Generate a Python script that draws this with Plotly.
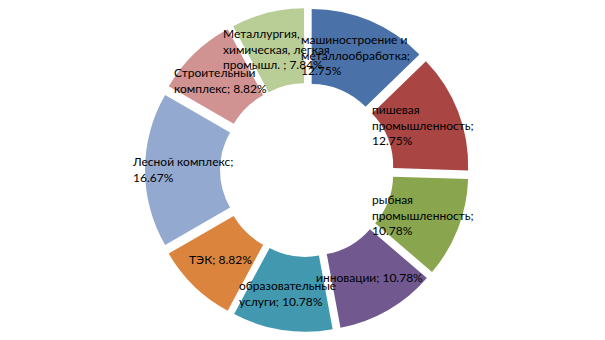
import math
import plotly.graph_objects as go

# Sector shares, clockwise from 12 o'clock
categories = [
    "машиностроение и металлообработка",
    "пишевая промышленность",
    "рыбная промышленность",
    "инновации",
    "образовательные услуги",
    "ТЭК",
    "Лесной комплекс",
    "Строительный комплекс",
    "Металлургия, химическая, легкая промышл. ",
]
shares = [12.75, 12.75, 10.78, 10.78, 10.78, 8.82, 16.67, 8.82, 7.84]

# How each category name wraps inside its slice
wrapped_names = [
    "машиностроение и<br>металлообработка",
    "пишевая<br>промышленность",
    "рыбная<br>промышленность",
    "инновации",
    "образовательные<br>услуги",
    "ТЭК",
    "Лесной комплекс",
    "Строительный<br>комплекс",
    "Металлургия,<br>химическая, легкая<br>промышл. ",
]
# Whether the percentage goes on its own line
value_on_new_line = [True, True, True, False, False, False, True, False, False]

colors = ["#4A72A8", "#A94643", "#89A54E", "#71588F", "#4198AF",
          "#DB843D", "#93A9CF", "#D09391", "#B9CD96"]

W, H = 605, 340
ML, MR, MT, MB = 9, 0, 8, 8
HOLE = 0.5
PULL = 0.08

fig = go.Figure(go.Pie(
    labels=categories,
    values=shares,
    sort=False,
    direction="clockwise",
    rotation=0,
    hole=HOLE,
    pull=[PULL] * len(shares),
    marker=dict(colors=colors, line=dict(width=0)),
    textinfo="none",
    hoverinfo="label+percent",
    showlegend=False,
))

# Data labels centred on each slice's mid-angle, halfway across the ring
plot_w = W - ML - MR
plot_h = H - MT - MB
outer = min(plot_w, plot_h) / 2 / (1 + PULL)
label_r = outer * ((1 + HOLE) / 2 + PULL)
total = sum(shares)
cum = 0.0
for name, val, newline in zip(wrapped_names, shares, value_on_new_line):
    mid = (cum + val / 2) / total * 2 * math.pi
    cum += val
    dx = label_r * math.sin(mid)
    dy = label_r * math.cos(mid)
    sep = "<br>" if newline else " "
    fig.add_annotation(
        x=0.5 + dx / plot_w, y=0.5 + dy / plot_h,
        xref="paper", yref="paper",
        text=f"{name};{sep}{val:.2f}%",
        showarrow=False, align="left",
        xanchor="center", yanchor="middle",
        font=dict(family="Lato, 'DejaVu Sans', sans-serif", size=12, color="#000000"),
    )

fig.update_layout(
    width=W, height=H,
    margin=dict(l=ML, r=MR, t=MT, b=MB),
    paper_bgcolor="#FFFFFF",
    plot_bgcolor="#FFFFFF",
)

fig.write_html("out.html")
